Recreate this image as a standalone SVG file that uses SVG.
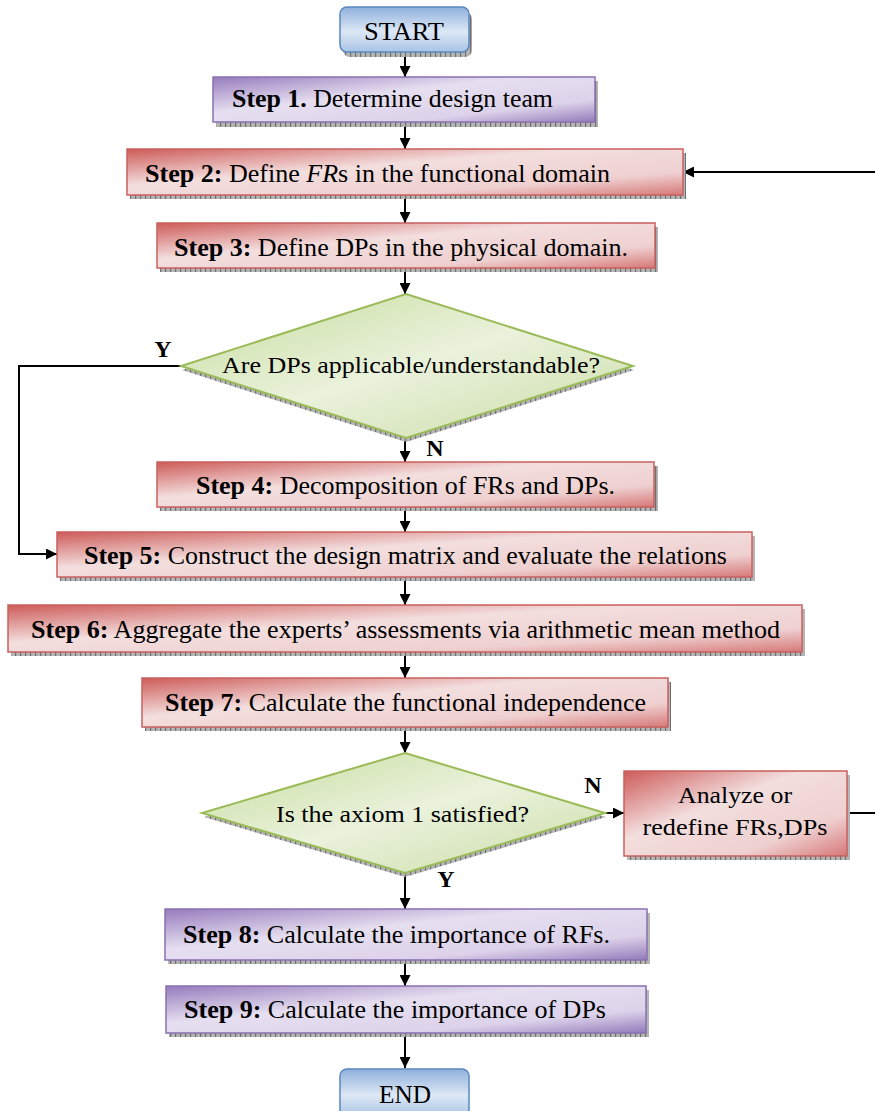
<svg xmlns="http://www.w3.org/2000/svg" width="875" height="1111" viewBox="0 0 875 1111">
<defs>
<linearGradient id="gRed" x1="0" y1="0" x2="1" y2="1">
<stop offset="0" stop-color="#cd5b58"/><stop offset="0.4" stop-color="#f3dede"/><stop offset="0.75" stop-color="#efd0d0"/><stop offset="1" stop-color="#d67878"/>
</linearGradient>
<linearGradient id="gPur" x1="0" y1="0" x2="1" y2="1">
<stop offset="0" stop-color="#967bbd"/><stop offset="0.4" stop-color="#e6dff0"/><stop offset="0.75" stop-color="#dcd2ea"/><stop offset="1" stop-color="#937aba"/>
</linearGradient>
<linearGradient id="gBlue" x1="0" y1="0" x2="0" y2="1">
<stop offset="0" stop-color="#8fb0dc"/><stop offset="0.55" stop-color="#dde8f5"/><stop offset="1" stop-color="#a9c3e6"/>
</linearGradient>
<linearGradient id="gGreen" x1="0" y1="0" x2="1" y2="1">
<stop offset="0" stop-color="#c6dc9c"/><stop offset="0.5" stop-color="#eaf2dc"/><stop offset="1" stop-color="#c9dca4"/>
</linearGradient>
<pattern id="hatch" width="5" height="6" patternUnits="userSpaceOnUse">
<rect width="5" height="6" fill="#b5b5b5"/><rect width="1.2" height="6" fill="#6f6f6f"/>
</pattern>
<marker id="arr" viewBox="0 0 10 10" refX="10" refY="5" markerWidth="11" markerHeight="11" markerUnits="userSpaceOnUse" orient="auto">
<path d="M0,0 L10,5 L0,10 z" fill="#000"/>
</marker>
<style>
.b{font-weight:bold;}
.red{fill:url(#gRed);stroke:#c9605e;stroke-width:1.5;}
.pur{fill:url(#gPur);stroke:#8a70b0;stroke-width:1.5;}
.blue{fill:url(#gBlue);stroke:#5b87c0;stroke-width:1.5;}
.grn{fill:url(#gGreen);stroke:#9bbb59;stroke-width:2;}
.sh{fill:url(#hatch);}
.c{fill:none;stroke:#000;stroke-width:2;}
</style>
</defs>
<g font-family="Liberation Serif, Times New Roman, serif" fill="#000">

<g id="connectors">
<path class="c" d="M405,52 V77" marker-end="url(#arr)"/>
<path class="c" d="M405,123 V149" marker-end="url(#arr)"/>
<path class="c" d="M405,196 V223" marker-end="url(#arr)"/>
<path class="c" d="M405,269 V294" marker-end="url(#arr)"/>
<path class="c" d="M405,438 V462" marker-end="url(#arr)"/>
<path class="c" d="M405,508 V532" marker-end="url(#arr)"/>
<path class="c" d="M405,578 V605" marker-end="url(#arr)"/>
<path class="c" d="M405,653 V678" marker-end="url(#arr)"/>
<path class="c" d="M405,728 V753" marker-end="url(#arr)"/>
<path class="c" d="M405,873 V909" marker-end="url(#arr)"/>
<path class="c" d="M405,961 V986" marker-end="url(#arr)"/>
<path class="c" d="M405,1034 V1068" marker-end="url(#arr)"/>
<path class="c" d="M181,366 H19 V554 H57" marker-end="url(#arr)"/>
<path class="c" d="M606,813 H624" marker-end="url(#arr)"/>
<path class="c" d="M847,813 H878 V172 H683" marker-end="url(#arr)"/>
<text class="b" x="163" y="357" font-size="24" text-anchor="middle">Y</text>
<text class="b" x="435" y="456" font-size="24" text-anchor="middle">N</text>
<text class="b" x="593" y="793" font-size="24" text-anchor="middle">N</text>
<text class="b" x="446" y="887" font-size="24" text-anchor="middle">Y</text>
</g>

<g id="start">
<rect class="sh" x="343" y="12" width="129" height="45" rx="7"/>
<rect class="blue" x="340" y="7" width="129" height="45" rx="7"/>
<text x="404" y="40" font-size="25" text-anchor="middle" textLength="80" lengthAdjust="spacingAndGlyphs">START</text>
</g>

<g id="step1">
<rect class="sh" x="216" y="81" width="382" height="46"/>
<rect class="pur" x="213" y="77" width="382" height="45"/>
<text x="232" y="107" font-size="25" textLength="321" lengthAdjust="spacingAndGlyphs"><tspan class="b">Step 1.</tspan> Determine design team</text>
</g>

<g id="step2">
<rect class="sh" x="130" y="153" width="556" height="46"/>
<rect class="red" x="127" y="149" width="556" height="46"/>
<text x="145" y="182" font-size="25" textLength="465" lengthAdjust="spacingAndGlyphs"><tspan class="b">Step 2:</tspan> Define <tspan font-style="italic">FR</tspan>s in the functional domain</text>
</g>

<g id="step3">
<rect class="sh" x="160" y="227" width="498" height="45"/>
<rect class="red" x="157" y="223" width="498" height="45"/>
<text x="174" y="256" font-size="25" textLength="454" lengthAdjust="spacingAndGlyphs"><tspan class="b">Step 3:</tspan> Define DPs in the physical domain.</text>
</g>

<g id="decision1">
<polygon class="sh" points="406,298 634,370 406,442 182,370"/>
<polygon class="grn" points="406,294 633,366 406,438 181,366"/>
<text x="222" y="373" font-size="24" textLength="378" lengthAdjust="spacingAndGlyphs">Are DPs applicable/understandable?</text>
</g>

<g id="step4">
<rect class="sh" x="160" y="466" width="498" height="45"/>
<rect class="red" x="157" y="462" width="497" height="45"/>
<text x="196" y="494" font-size="25" textLength="419" lengthAdjust="spacingAndGlyphs"><tspan class="b">Step 4:</tspan> Decomposition of FRs and DPs.</text>
</g>

<g id="step5">
<rect class="sh" x="60" y="536" width="695" height="45"/>
<rect class="red" x="57" y="532" width="695" height="45"/>
<text x="84" y="564" font-size="25" textLength="643" lengthAdjust="spacingAndGlyphs"><tspan class="b">Step 5:</tspan> Construct the design matrix and evaluate the relations</text>
</g>

<g id="step6">
<rect class="sh" x="11" y="609" width="794" height="47"/>
<rect class="red" x="8" y="605" width="794" height="47"/>
<text x="31" y="638" font-size="25" textLength="749" lengthAdjust="spacingAndGlyphs"><tspan class="b">Step 6:</tspan> Aggregate the experts’ assessments via arithmetic mean method</text>
</g>

<g id="step7">
<rect class="sh" x="145" y="682" width="526" height="49"/>
<rect class="red" x="142" y="678" width="526" height="49"/>
<text x="165" y="711" font-size="25" textLength="481" lengthAdjust="spacingAndGlyphs"><tspan class="b">Step 7:</tspan> Calculate the functional independence</text>
</g>

<g id="decision2">
<polygon class="sh" points="405,757 606,817 405,877 204,817"/>
<polygon class="grn" points="405,753 605,813 405,873 202,813"/>
<text x="276" y="822" font-size="24" textLength="253" lengthAdjust="spacingAndGlyphs">Is the axiom 1 satisfied?</text>
</g>

<g id="analyze">
<rect class="sh" x="627" y="775" width="223" height="85"/>
<rect class="red" x="624" y="771" width="223" height="85"/>
<text x="735" y="803" font-size="24" text-anchor="middle" textLength="114" lengthAdjust="spacingAndGlyphs">Analyze or</text>
<text x="735" y="835" font-size="24" text-anchor="middle" textLength="185" lengthAdjust="spacingAndGlyphs">redefine FRs,DPs</text>
</g>

<g id="step8">
<rect class="sh" x="168" y="913" width="482" height="51"/>
<rect class="pur" x="165" y="909" width="482" height="51"/>
<text x="183" y="943" font-size="26" textLength="427" lengthAdjust="spacingAndGlyphs"><tspan class="b">Step 8:</tspan> Calculate the importance of RFs.</text>
</g>

<g id="step9">
<rect class="sh" x="169" y="990" width="480" height="47"/>
<rect class="pur" x="166" y="986" width="480" height="47"/>
<text x="184" y="1018" font-size="26" textLength="422" lengthAdjust="spacingAndGlyphs"><tspan class="b">Step 9:</tspan> Calculate the importance of DPs</text>
</g>

<g id="end">
<rect class="blue" x="340" y="1069" width="129" height="48" rx="7"/>
<text x="405" y="1103" font-size="25" text-anchor="middle" textLength="52" lengthAdjust="spacingAndGlyphs">END</text>
</g>
</g>
</svg>
